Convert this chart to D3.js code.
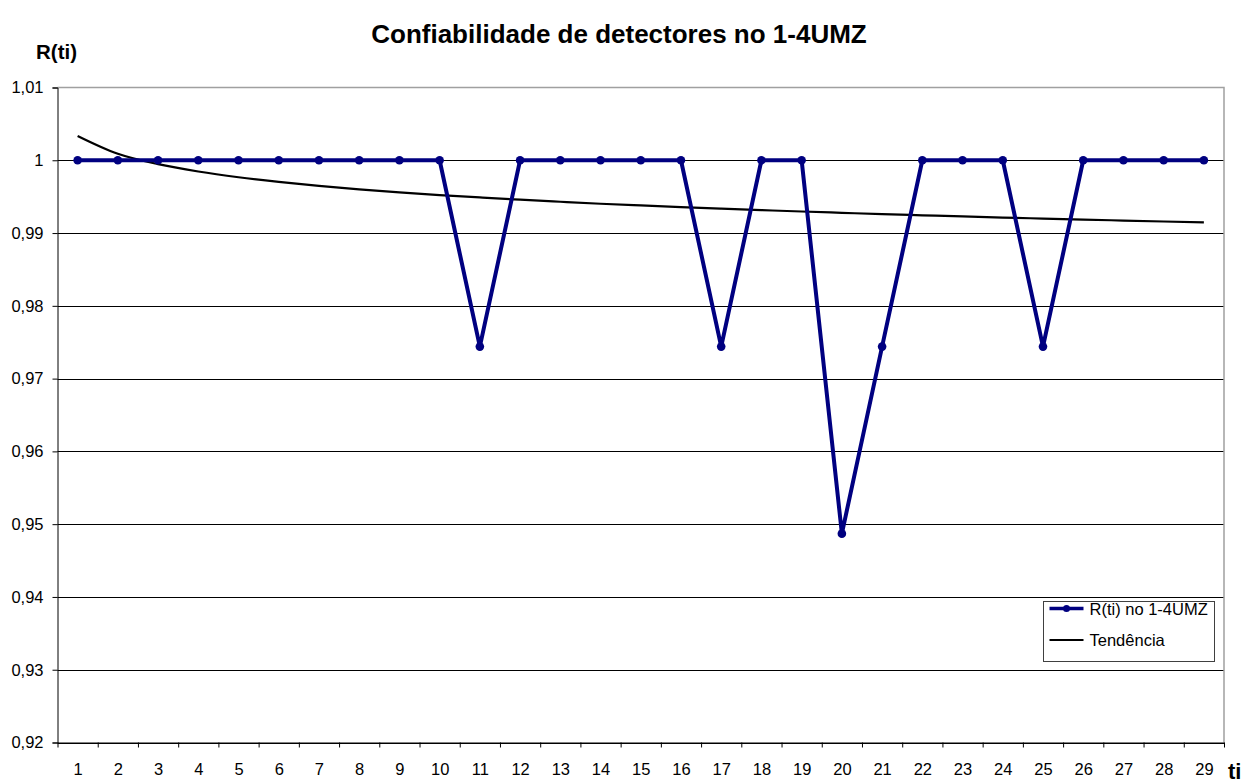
<!DOCTYPE html>
<html>
<head>
<meta charset="utf-8">
<script src="https://cdn.jsdelivr.net/npm/d3@7"></script>
<style>
  body { margin: 0; background: #fff; }
  text { font-family: Arial, "Liberation Sans", sans-serif; fill: #000; }
</style>
</head>
<body>
<div id="chart-container"></div>
<script>
// ti values 1..29
let ti = [1, 2, 3, 4, 5, 6, 7, 8, 9, 10, 11, 12, 13, 14, 15, 16, 17, 18, 19, 20,
  21, 22, 23, 24, 25, 26, 27, 28, 29];

// R(ti) no 1-4UMZ
let rValues = [1, 1, 1, 1, 1, 1, 1, 1, 1, 1, 0.9744, 1, 1, 1, 1, 1, 0.9744, 1, 1, 0.9487,
  0.9744, 1, 1, 1, 0.9744, 1, 1, 1, 1];

// Tendência
let trendValues = [1.00335, 1.0009, 0.99947, 0.99846, 0.99767, 0.99703, 0.99648, 0.99601,
  0.99559, 0.99522, 0.99489, 0.99458, 0.9943, 0.99403, 0.99379, 0.99356, 0.99335, 0.99315,
  0.99296, 0.99278, 0.9926, 0.99244, 0.99228, 0.99213, 0.99199, 0.99185, 0.99172, 0.99159,
  0.99146];

let yTicks = [0.92, 0.93, 0.94, 0.95, 0.96, 0.97, 0.98, 0.99, 1, 1.01];

let width = 1247, height = 783;
let plot = {left: 57.5, right: 1224, top: 87.5, bottom: 742.5};

let svg = d3.select("#chart-container").append("svg")
  .attr("width", width)
  .attr("height", height);

let ptLocale = d3.formatLocale({decimal: ",", thousands: ".", grouping: [3], currency: ["R$", ""]});
let fmt = ptLocale.format("~g");

let xScale = d3.scaleLinear()
  .domain([0.5, 29.5])
  .range([plot.left, plot.right]);

let yScale = d3.scaleLinear()
  .domain([0.92, 1.01])
  .range([plot.bottom, plot.top]);

// gridlines
svg.append("g")
  .selectAll("line")
  .data(yTicks.filter(d => d < 1.01))
  .enter().append("line")
    .attr("x1", plot.left)
    .attr("x2", plot.right)
    .attr("y1", d => Math.round(yScale(d)) + 0.5)
    .attr("y2", d => Math.round(yScale(d)) + 0.5)
    .attr("stroke", "#000")
    .attr("stroke-width", 1);

// top and right border (grey)
svg.append("path")
  .attr("d", `M${plot.left},${yScale(1.01)}H${plot.right}V${plot.bottom}`)
  .attr("fill", "none")
  .attr("stroke", "#a0a0a0")
  .attr("stroke-width", 1.5);

// y axis
let yAxis = svg.append("g")
  .attr("transform", `translate(${plot.left}, 0)`)
  .call(d3.axisLeft(yScale).tickValues(yTicks).tickFormat(fmt).tickSize(5).tickPadding(9));
yAxis.select(".domain").attr("stroke", "#000");
yAxis.selectAll("text").style("font-size", "16.5px")
  .style("font-family", "Arial, 'Liberation Sans', sans-serif");

// x axis: ticks on boundaries, labels at centres
let xAxis = svg.append("g")
  .attr("transform", `translate(0, ${plot.bottom})`)
  .call(d3.axisBottom(xScale).tickValues(d3.range(0.5, 30, 1)).tickFormat("").tickSize(5).tickSizeOuter(0));
xAxis.select(".domain").attr("stroke", "#000");

let xLabels = svg.append("g")
  .attr("transform", `translate(0, ${plot.bottom})`)
  .call(d3.axisBottom(xScale).tickValues(ti).tickFormat(d3.format("d")).tickSize(0).tickPadding(21));
xLabels.select(".domain").remove();
xLabels.selectAll("text").style("font-size", "16.5px")
  .style("font-family", "Arial, 'Liberation Sans', sans-serif");

// trend line
svg.append("path")
  .datum(trendValues)
  .attr("fill", "none")
  .attr("stroke", "#000")
  .attr("stroke-width", 2.2)
  .attr("d", d3.line()
    .x((d, i) => xScale(ti[i]))
    .y(d => yScale(d))
    .curve(d3.curveMonotoneX));

// data series
svg.append("path")
  .datum(rValues)
  .attr("fill", "none")
  .attr("stroke", "#000080")
  .attr("stroke-width", 4)
  .attr("stroke-linejoin", "round")
  .attr("d", d3.line()
    .x((d, i) => xScale(ti[i]))
    .y(d => yScale(d)));

svg.append("g")
  .selectAll("circle")
  .data(rValues)
  .enter().append("circle")
    .attr("cx", (d, i) => xScale(ti[i]))
    .attr("cy", d => yScale(d))
    .attr("r", 4.3)
    .attr("fill", "#000080");

// titles
svg.append("text")
  .attr("x", 619)
  .attr("y", 43)
  .attr("text-anchor", "middle")
  .style("font-size", "26px")
  .style("font-weight", "bold")
  .text("Confiabilidade de detectores no 1-4UMZ");

svg.append("text")
  .attr("x", 36)
  .attr("y", 59)
  .style("font-size", "20.5px")
  .style("font-weight", "bold")
  .text("R(ti)");

svg.append("text")
  .attr("x", 1228)
  .attr("y", 779)
  .style("font-size", "22px")
  .style("font-weight", "bold")
  .text("ti");

// legend
let legend = svg.append("g").attr("transform", "translate(1043.5, 601.5)");
legend.append("rect")
  .attr("width", 171)
  .attr("height", 60)
  .attr("fill", "#fff")
  .attr("stroke", "#404040")
  .attr("stroke-width", 1);

legend.append("line")
  .attr("x1", 6).attr("x2", 40).attr("y1", 7).attr("y2", 7)
  .attr("stroke", "#000080").attr("stroke-width", 3.5);
legend.append("circle")
  .attr("cx", 23).attr("cy", 7).attr("r", 3.5).attr("fill", "#000080");
legend.append("text")
  .attr("x", 46).attr("y", 13)
  .style("font-size", "16.5px")
  .text("R(ti) no 1-4UMZ");

legend.append("line")
  .attr("x1", 6).attr("x2", 40).attr("y1", 38.5).attr("y2", 38.5)
  .attr("stroke", "#000").attr("stroke-width", 2.2);
legend.append("text")
  .attr("x", 46).attr("y", 44.5)
  .style("font-size", "16.5px")
  .text("Tendência");
</script>
</body>
</html>
